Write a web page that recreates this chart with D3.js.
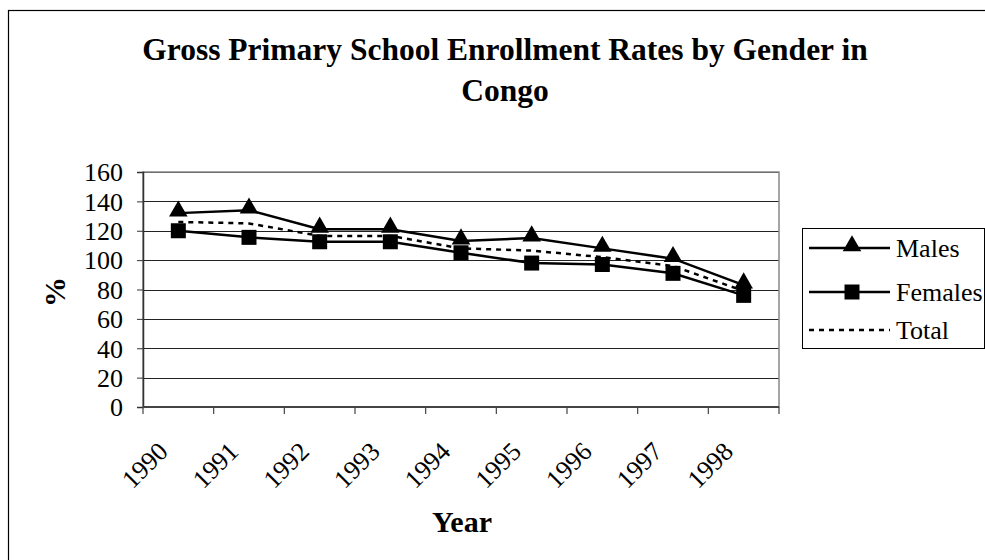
<!DOCTYPE html>
<html>
<head>
<meta charset="utf-8">
<script src="https://cdn.jsdelivr.net/npm/d3@7"></script>
<style>
  body { margin: 0; background: #fff; }
  text { font-family: "Liberation Serif", "Times New Roman", serif; fill: #000; }
</style>
</head>
<body>
<div id="chart"></div>
<script>
// data
var years = ["1990", "1991", "1992", "1993", "1994", "1995", "1996", "1997", "1998"];
var males = [132, 134, 121, 121, 113, 115, 108, 101, 83];
var females = [120, 115.5, 112.5, 112.5, 105, 98, 97, 91, 76];
var total = [126, 125, 116.5, 116.5, 108, 106.5, 102, 96, 79];
var yTicks = [0, 20, 40, 60, 80, 100, 120, 140, 160];

var width = 985, height = 560;
var plot = {left: 143, right: 779, top: 172, bottom: 407};

var svg = d3.select("#chart").append("svg")
    .attr("width", width)
    .attr("height", height);

// outer chart frame
svg.append("rect")
    .attr("x", 8.5).attr("y", 10.5)
    .attr("width", 990).attr("height", 570)
    .attr("fill", "none").attr("stroke", "#000").attr("stroke-width", 1.2);

svg.append("text")
    .attr("x", 505).attr("y", 60)
    .attr("text-anchor", "middle")
    .style("font-size", "31.5px").style("font-weight", "bold")
    .text("Gross Primary School Enrollment Rates by Gender in");
svg.append("text")
    .attr("x", 505).attr("y", 101)
    .attr("text-anchor", "middle")
    .style("font-size", "31.5px").style("font-weight", "bold")
    .text("Congo");

var x = d3.scaleBand()
    .domain(years)
    .range([plot.left, plot.right])
    .padding(0);

var y = d3.scaleLinear()
    .domain([0, 160])
    .range([plot.bottom, plot.top]);

// gridlines
svg.append("g")
  .selectAll("line")
    .data(yTicks.slice(1))
  .enter().append("line")
    .attr("x1", plot.left).attr("x2", plot.right)
    .attr("y1", function(d) { return Math.round(y(d)) + 0.5; })
    .attr("y2", function(d) { return Math.round(y(d)) + 0.5; })
    .attr("stroke", "#222").attr("stroke-width", 1);

// plot frame (right side gray)
svg.append("rect")
    .attr("x", plot.left).attr("y", plot.top)
    .attr("width", plot.right - plot.left).attr("height", plot.bottom - plot.top)
    .attr("fill", "none").attr("stroke", "#888").attr("stroke-width", 1.5);

// y axis
var yAxis = svg.append("g")
    .attr("transform", "translate(" + plot.left + ",0)")
    .call(d3.axisLeft(y).tickValues(yTicks).tickSize(6).tickPadding(14));
yAxis.select(".domain").attr("stroke", "#333").attr("stroke-width", 1.5);
yAxis.selectAll(".tick line").attr("stroke", "#333");
yAxis.selectAll("text")
    .style("font-family", "Liberation Serif")
    .style("font-size", "26px")
    .attr("dy", "0.34em");

// x axis: ticks at category boundaries
var xAxis = svg.append("g")
    .attr("transform", "translate(0," + plot.bottom + ")");
xAxis.append("line")
    .attr("x1", plot.left).attr("x2", plot.right)
    .attr("y1", 0).attr("y2", 0)
    .attr("stroke", "#444").attr("stroke-width", 2);
xAxis.selectAll(".xt")
    .data(years.concat(["end"]))
  .enter().append("line")
    .attr("class", "xt")
    .attr("x1", function(d, i) { return i < years.length ? x(d) : plot.right; })
    .attr("x2", function(d, i) { return i < years.length ? x(d) : plot.right; })
    .attr("y1", 0).attr("y2", 7)
    .attr("stroke", "#444").attr("stroke-width", 1.2);
xAxis.selectAll(".xl")
    .data(years)
  .enter().append("text")
    .attr("class", "xl")
    .attr("text-anchor", "end")
    .attr("transform", function(d) {
      var cx = x(d) + x.bandwidth() / 2;
      return "translate(" + (cx - 9) + ",46) rotate(-45)";
    })
    .style("font-size", "26px")
    .text(function(d) { return d; });

// axis titles
svg.append("text")
    .attr("transform", "translate(65,292) rotate(-90)")
    .attr("text-anchor", "middle")
    .style("font-size", "30px").style("font-weight", "bold")
    .text("%");
svg.append("text")
    .attr("x", 462).attr("y", 532)
    .attr("text-anchor", "middle")
    .style("font-size", "30px").style("font-weight", "bold")
    .text("Year");

var cx = function(d, i) { return x(years[i]) + x.bandwidth() / 2; };
var line = d3.line()
    .x(function(d, i) { return cx(d, i); })
    .y(function(d) { return y(d); });

var tri = d3.symbol().type(d3.symbolTriangle).size(150);
var sq = d3.symbol().type(d3.symbolSquare).size(225);

svg.append("path").datum(total)
    .attr("d", line)
    .attr("fill", "none").attr("stroke", "#000")
    .attr("stroke-width", 2.5).attr("stroke-dasharray", "5,5");
svg.append("path").datum(males)
    .attr("d", line)
    .attr("fill", "none").attr("stroke", "#000").attr("stroke-width", 2.5);
svg.append("path").datum(females)
    .attr("d", line)
    .attr("fill", "none").attr("stroke", "#000").attr("stroke-width", 2.5);

svg.append("g").selectAll("path")
    .data(females)
  .enter().append("path")
    .attr("d", sq)
    .attr("transform", function(d, i) { return "translate(" + cx(d, i) + "," + y(d) + ")"; })
    .attr("fill", "#000");
svg.append("g").selectAll("path")
    .data(males)
  .enter().append("path")
    .attr("d", tri)
    .attr("transform", function(d, i) { return "translate(" + cx(d, i) + "," + (y(d) - 2) + ")"; })
    .attr("fill", "#000");

// legend
var legend = svg.append("g");
legend.append("rect")
    .attr("x", 802.5).attr("y", 228.5)
    .attr("width", 182).attr("height", 120)
    .attr("fill", "#fff").attr("stroke", "#000").attr("stroke-width", 1);

var entries = [
  {name: "Males", y: 248, sym: tri, dash: null},
  {name: "Females", y: 292, sym: sq, dash: null},
  {name: "Total", y: 330, sym: null, dash: "5,5"}
];
entries.forEach(function(e) {
  legend.append("line")
      .attr("x1", 809).attr("x2", 890)
      .attr("y1", e.y).attr("y2", e.y)
      .attr("stroke", "#000").attr("stroke-width", 2.5)
      .attr("stroke-dasharray", e.dash);
  if (e.sym) {
    legend.append("path")
        .attr("d", e.sym)
        .attr("transform", "translate(852," + (e.sym === tri ? e.y - 2 : e.y) + ")")
        .attr("fill", "#000");
  }
  legend.append("text")
      .attr("x", 896).attr("y", e.y + 9)
      .style("font-size", "26px")
      .text(e.name);
});
</script>
</body>
</html>
